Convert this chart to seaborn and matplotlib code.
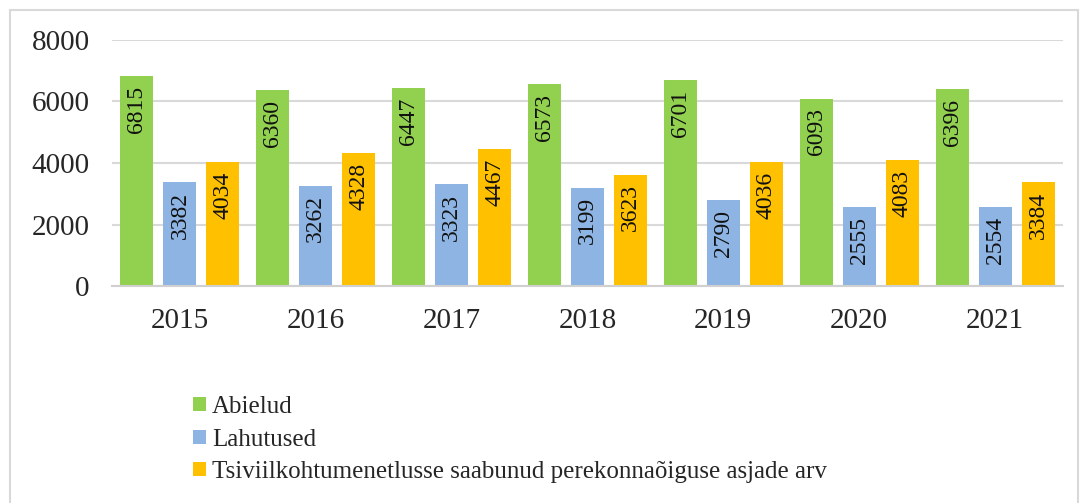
import pandas as pd
import matplotlib.pyplot as plt
import seaborn as sns
from matplotlib.patches import Rectangle

# Data
years = ["2015", "2016", "2017", "2018", "2019", "2020", "2021"]
abielud = [6815, 6360, 6447, 6573, 6701, 6093, 6396]
lahutused = [3382, 3262, 3323, 3199, 2790, 2555, 2554]
asjad = [4034, 4328, 4467, 3623, 4036, 4083, 3384]
series_names = [
    "Abielud",
    "Lahutused",
    "Tsiviilkohtumenetlusse saabunud perekonnaõiguse asjade arv",
]
colors = ["#92d050", "#8eb4e3", "#ffc000"]

df = pd.DataFrame({
    "year": years * 3,
    "value": abielud + lahutused + asjad,
    "series": [series_names[0]] * 7 + [series_names[1]] * 7 + [series_names[2]] * 7,
})

sns.set_style("white")
plt.rcParams["font.family"] = ["Liberation Serif", "DejaVu Serif"]

fig = plt.figure(figsize=(10.89, 5.03), dpi=100)
ax = fig.add_axes([0.1028, 0.4314, 0.8733, 0.4891])

# Light grey frame around the whole chart
fig.patches.append(Rectangle((10 / 1089, -0.02), 1068 / 1089, 0.02 + 493 / 503,
                             transform=fig.transFigure, fill=False,
                             edgecolor="#d9d9d9", linewidth=1.5))

sns.barplot(
    data=df, x="year", y="value", hue="series",
    palette=colors, width=0.949, gap=0.233, saturation=1,
    linewidth=0, ax=ax, legend=True,
)

ax.set_ylim(0, 8000)
ax.set_xlim(-0.5, 6.5)
ax.set_yticks([0, 2000, 4000, 6000, 8000])
ax.yaxis.grid(True, color="#d9d9d9", linewidth=1.5)
ax.set_axisbelow(True)
for side in ["top", "right", "left"]:
    ax.spines[side].set_visible(False)
ax.spines["bottom"].set_color("#d0d0d0")
ax.spines["bottom"].set_linewidth(1.5)
ax.tick_params(axis="y", length=0, pad=16, labelsize=21)
ax.tick_params(axis="x", length=0, pad=16, labelsize=21)
ax.set_xlabel("")
ax.set_ylabel("")

# Value labels inside the top of each bar, reading bottom to top
for container in ax.containers:
    for bar in container:
        h = bar.get_height()
        ax.annotate(f"{h:.0f}", (bar.get_x() + bar.get_width() / 2, h),
                    xytext=(0, -7), textcoords="offset points",
                    ha="center", va="top", rotation=90,
                    fontsize=17, color="#111111")

# Legend below the plot
handles, labels = ax.get_legend_handles_labels()
ax.get_legend().remove()
fig.legend(handles, labels, loc="upper left",
           bbox_to_anchor=(183 / 1089, 1 - 386 / 503),
           frameon=False, fontsize=18,
           handlelength=0.5, handleheight=0.5, handletextpad=0.25,
           labelspacing=0.42, borderaxespad=0)

fig.savefig("out.png", dpi=100)
